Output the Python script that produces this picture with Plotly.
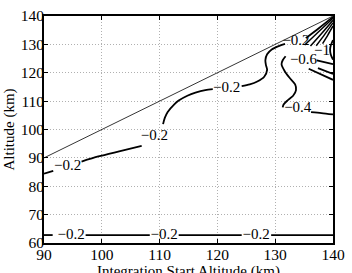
import plotly.graph_objects as go

# ---- data ----
x_ticks = [90, 100, 110, 120, 130, 140]
y_ticks = [60, 70, 80, 90, 100, 110, 120, 130, 140]

# boundary line (integration start altitude = altitude)
diag_x = [90, 140]
diag_y = [90, 140]

# contour pieces (each tuple is one drawn piece between inline labels)
bottom_segments = [
    ([90, 91.5], [62.8, 62.8]),
    ([97.2, 102, 108.3], [62.8, 62.8, 62.8]),
    ([113.3, 118, 124.2], [62.8, 62.8, 62.8]),
    ([129.3, 135, 140], [62.8, 62.8, 62.8]),
]

upper_segments = [
    ([90, 91.6], [84.4, 85.4]),
    ([96.5, 99.4, 103, 106.9], [88.7, 90.5, 92.3, 94.2]),
    ([110.6, 110.9, 111.4, 112.5, 113.3, 114.8, 116.2, 117.9, 119.2],
     [101.9, 104.1, 106.2, 108.8, 110.2, 111.9, 113.0, 113.9, 114.2]),
    ([124.2, 125.6, 126.9, 128.1, 128.6, 128.4, 128.3, 128.6, 129.4, 130.6, 131.7],
     [115.3, 115.9, 116.9, 118.6, 121.0, 122.7, 124.4, 126.5, 128.2, 129.4, 130.2]),
    ([135.3, 137.6, 140], [132.2, 135.8, 139.7]),
]

fan_segments = [
    ([135.1, 137.6, 140], [129.8, 134.6, 139.2]),
    ([136.1, 138.1, 140], [129.4, 134.0, 138.5]),
    ([137.1, 138.6, 140], [129.5, 133.6, 137.6]),
    ([138.2, 139.1, 140], [130.3, 133.3, 136.5]),
]

s_curve_x = [131.8, 131.3, 131.1, 131.6, 132.45, 133.45, 133.6, 133.1, 132.1, 131.45, 131.3]
s_curve_y = [125.8, 124.4, 123.0, 120.7, 118.3, 115.9, 113.9, 111.9, 110.2, 108.8, 107.8]

right_segments = [
    ([136.2, 138.0, 140], [106.1, 105.8, 105.3]),
    ([137.2, 140], [124.4, 123.0]),
    ([137.4, 140], [121.6, 119.6]),
    ([135.8, 140], [121.4, 117.5]),
    ([140, 139.6, 139.5, 139.6, 140], [131.5, 129.5, 128.3, 126.5, 124.6]),
]

label_x = [94.7, 110.8, 126.7, 94.1, 109.1, 121.6, 133.6, 133.9, 134.9, 138.1]
label_y = [62.8, 62.8, 62.8, 87.1, 97.6, 114.6, 131.2, 107.5, 124.5, 127.6]
label_text = ["−0.2", "−0.2", "−0.2", "−0.2", "−0.2", "−0.2", "−0.2", "−0.4", "−0.6", "−1"]

FONT = "Liberation Serif"
FS_TICK = 15.5
FS_LABEL = 15

fig = go.Figure()

fig.add_trace(go.Scatter(x=diag_x, y=diag_y, mode="lines",
                         line=dict(color="black", width=0.8),
                         hoverinfo="skip", showlegend=False))


def add_segments(segs, width=1.8):
    for sx, sy in segs:
        fig.add_trace(go.Scatter(x=sx, y=sy, mode="lines",
                                 line=dict(color="black", width=width, shape="spline", smoothing=0.8),
                                 hoverinfo="skip", showlegend=False))


add_segments(bottom_segments)
add_segments(upper_segments)
add_segments(fan_segments, width=1.5)
add_segments([(s_curve_x, s_curve_y)])
add_segments(right_segments)

fig.add_trace(go.Scatter(x=label_x, y=label_y, mode="text", text=label_text,
                         textposition="middle center",
                         textfont=dict(family=FONT, size=FS_LABEL, color="black"),
                         hoverinfo="skip", showlegend=False))

axis_common = dict(
    showline=True, linecolor="black", linewidth=1.6, mirror="ticks",
    ticks="inside", ticklen=4, tickcolor="black", tickwidth=1,
    showgrid=True, gridcolor="#b0b0b0", griddash="1px,2px", gridwidth=1,
    zeroline=False, ticklabeloverflow="allow",
    tickfont=dict(family=FONT, size=FS_TICK, color="black"),
)

fig.update_xaxes(range=[90, 140], tickvals=x_ticks, ticklabelstandoff=-3, **axis_common)
fig.update_yaxes(range=[60, 140], tickvals=y_ticks, ticklabelstandoff=-5, **axis_common)

fig.update_layout(
    width=352, height=273,
    margin=dict(l=44, r=9, t=7, b=30),
    plot_bgcolor="white", paper_bgcolor="white",
    annotations=[
        dict(text="Integration Start Altitude (km)", xref="paper", yref="paper",
             x=0.5, y=0, xanchor="center", yanchor="top", yshift=-18,
             showarrow=False, font=dict(family=FONT, size=FS_LABEL, color="black")),
        dict(text="Altitude (km)", xref="paper", yref="paper",
             x=0, y=0.5, xanchor="center", yanchor="middle", xshift=-35,
             textangle=-90, showarrow=False,
             font=dict(family=FONT, size=FS_LABEL, color="black")),
    ],
)

fig.write_html("out.html")
